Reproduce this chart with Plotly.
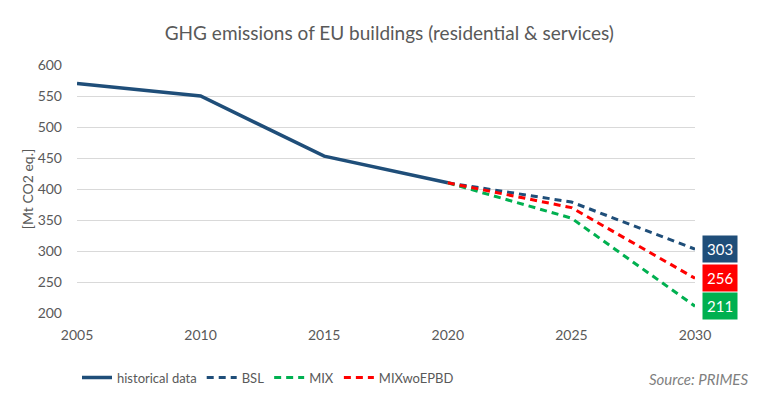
import plotly.graph_objects as go

hist_years = [2005, 2010, 2015, 2020]
hist_values = [570, 550, 453, 410]
scen_years = [2020, 2025, 2030]
bsl_values = [410, 379, 303]
mix_values = [410, 353, 211]
mixwo_values = [410, 370, 256]
x_ticks = [2005, 2010, 2015, 2020, 2025, 2030]

NAVY = "#1F4E79"
GREEN = "#00B050"
RED = "#FF0000"
GRAY = "#595959"
FONT = "Lato"

fig = go.Figure()
fig.add_trace(go.Scatter(x=hist_years, y=hist_values, mode="lines", name="historical data",
                         line=dict(color=NAVY, width=3.5)))
fig.add_trace(go.Scatter(x=scen_years, y=bsl_values, mode="lines", name="BSL",
                         line=dict(color=NAVY, width=3, dash="7px,5px")))
fig.add_trace(go.Scatter(x=scen_years, y=mix_values, mode="lines", name="MIX",
                         line=dict(color=GREEN, width=3, dash="7px,5px")))
fig.add_trace(go.Scatter(x=scen_years, y=mixwo_values, mode="lines", name="MIXwoEPBD",
                         line=dict(color=RED, width=3, dash="7px,5px")))

for vals, col in [(bsl_values, NAVY), (mixwo_values, RED), (mix_values, GREEN)]:
    fig.add_annotation(x=scen_years[-1], y=vals[-1], text=str(vals[-1]), showarrow=False,
                       xref="x", yref="y", xshift=25, bgcolor=col, borderpad=4,
                       font=dict(color="white", size=15, family=FONT))

fig.add_annotation(xref="paper", yref="paper", x=1.089, y=-0.268, xanchor="right", yanchor="middle",
                   text="<i>Source: PRIMES</i>", showarrow=False,
                   font=dict(color="#7F7F7F", size=15, family=FONT))

fig.update_layout(
    width=758, height=397,
    paper_bgcolor="white", plot_bgcolor="white",
    margin=dict(l=69, r=71, t=57, b=92),
    title=dict(text="GHG emissions of EU buildings (residential & services)",
               x=0.503, xanchor="center", y=0.937, yanchor="middle",
               font=dict(size=19, color=GRAY, family=FONT)),
    font=dict(family=FONT, color=GRAY, size=14),
    xaxis=dict(range=[2005, 2030], tickvals=x_ticks, showgrid=False, zeroline=False,
               showline=False, ticks="", ticklabelstandoff=12,
               tickfont=dict(size=14, color=GRAY)),
    yaxis=dict(range=[200, 600], dtick=50, showgrid=True, gridcolor="#D9D9D9", gridwidth=1,
               zeroline=False, showline=False, ticks="", ticklabelstandoff=14,
               tickfont=dict(size=14, color=GRAY), automargin=False,
               title=dict(text="[Mt CO2 eq.]", font=dict(size=14, color=GRAY), standoff=0)),
    legend=dict(orientation="h", x=0.0, y=-0.26, xanchor="left", yanchor="middle",
                font=dict(size=13, color=GRAY), itemwidth=30, tracegroupgap=0),
    showlegend=True,
)

fig.write_html("out.html")
